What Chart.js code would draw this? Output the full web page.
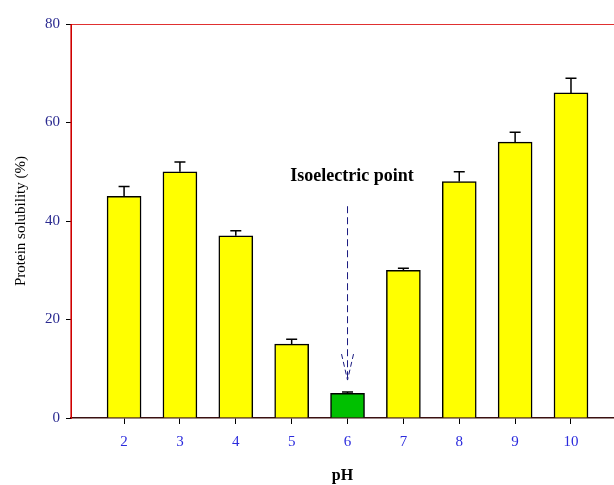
<!DOCTYPE html>
<html>
<head>
<meta charset="utf-8">
<script src="https://cdn.jsdelivr.net/npm/chart.js@4.4.0/dist/chart.umd.min.js"></script>
<style>
  html, body { margin: 0; padding: 0; background: #fff; }
  #wrap { width: 614px; height: 485px; }
</style>
</head>
<body>
<div id="wrap"><canvas id="chart"></canvas></div>
<script>
// data
var phValues = [2, 3, 4, 5, 6, 7, 8, 9, 10];
var solubility = [45, 50, 37, 15, 5, 30, 48, 56, 66];
var errorTop = [47, 52, 38, 16, 5.3, 30.4, 50, 58, 69];
var yTicks = [0, 20, 40, 60, 80];
var isoelectricPh = 6;
var noteText = 'Isoelectric point';

var barColors = phValues.map(function (p) { return p === isoelectricPh ? '#00c000' : '#ffff00'; });

// error bars + isoelectric arrow, drawn through the scales
var extras = {
  id: 'extras',
  afterDatasetsDraw: function (chart) {
    var ctx = chart.ctx;
    var xs = chart.scales.x, ys = chart.scales.y;
    ctx.save();
    ctx.strokeStyle = '#000';
    ctx.lineWidth = 1.5;
    for (var i = 0; i < phValues.length; i++) {
      var x = xs.getPixelForValue(phValues[i]);
      var y0 = ys.getPixelForValue(solubility[i]);
      var y1 = ys.getPixelForValue(errorTop[i]);
      ctx.beginPath();
      ctx.moveTo(x, y0); ctx.lineTo(x, y1);
      ctx.moveTo(x - 5.5, y1); ctx.lineTo(x + 5.5, y1);
      ctx.stroke();
    }
    // left axis line in red
    var area = chart.chartArea;
    ctx.strokeStyle = '#d00000';
    ctx.lineWidth = 1.2;
    ctx.beginPath();
    ctx.moveTo(area.left, area.top); ctx.lineTo(area.left, area.bottom);
    ctx.stroke();
    // note + dashed arrow
    var ax = xs.getPixelForValue(isoelectricPh);
    ctx.fillStyle = '#000';
    ctx.font = 'bold 18px "Liberation Serif", serif';
    ctx.textAlign = 'center';
    ctx.textBaseline = 'middle';
    ctx.fillText(noteText, xs.getPixelForValue(6.08), ys.getPixelForValue(49));
    ctx.strokeStyle = '#1a1a80';
    ctx.lineWidth = 1;
    ctx.setLineDash([7, 4]);
    var top = ys.getPixelForValue(43), tip = ys.getPixelForValue(7.7);
    ctx.beginPath();
    ctx.moveTo(ax, top); ctx.lineTo(ax, tip);
    ctx.stroke();
    ctx.setLineDash([5, 3]);
    ctx.beginPath();
    ctx.moveTo(ax - 6, tip - 26); ctx.lineTo(ax, tip);
    ctx.moveTo(ax + 6, tip - 26); ctx.lineTo(ax, tip);
    ctx.stroke();
    ctx.restore();
  }
};

new Chart(document.getElementById('chart'), {
  type: 'bar',
  data: {
    datasets: [{
      data: phValues.map(function (p, i) { return { x: p, y: solubility[i] }; }),
      backgroundColor: barColors,
      borderColor: '#000',
      borderWidth: 1.5,
      barThickness: 34
    }]
  },
  options: {
    responsive: true,
    maintainAspectRatio: false,
    animation: false,
    layout: { padding: { top: 24, right: 0, left: 0, bottom: 0 } },
    plugins: { legend: { display: false }, tooltip: { enabled: false } },
    scales: {
      x: {
        type: 'linear',
        offset: false,
        min: 1.05,
        max: 10.77,
        afterBuildTicks: function (s) { s.ticks = phValues.map(function (v) { return { value: v }; }); },
        afterFit: function (s) { s.height = 67; },
        grid: { offset: false, drawOnChartArea: false, tickColor: '#000', tickLength: 6 },
        border: { color: '#3a1010', width: 1.5 },
        ticks: { color: '#2b2bdd', font: { family: '"Liberation Serif", serif', size: 15 }, padding: 9, maxRotation: 0 },
        title: { display: true, text: 'pH', color: '#000', font: { family: '"Liberation Serif", serif', size: 16, weight: 'bold' }, padding: { top: 12, bottom: 0 } }
      },
      y: {
        min: 0,
        max: 80,
        afterBuildTicks: function (s) { s.ticks = yTicks.map(function (v) { return { value: v }; }); },
        afterFit: function (s) { s.width = 71; },
        grid: {
          drawOnChartArea: true,
          color: function (c) { return c.tick && c.tick.value === 80 ? '#e03030' : 'rgba(0,0,0,0)'; },
          tickColor: '#000',
          tickLength: 5
        },
        border: { color: '#cc0000', width: 1 },
        ticks: { color: '#2a2a90', font: { family: '"Liberation Serif", serif', size: 15 }, padding: 6 },
        title: { display: true, text: 'Protein solubility (%)', color: '#000', font: { family: '"Liberation Serif", serif', size: 15 }, padding: { top: 12, bottom: 0 } }
      }
    }
  },
  plugins: [extras]
});
</script>
</body>
</html>
